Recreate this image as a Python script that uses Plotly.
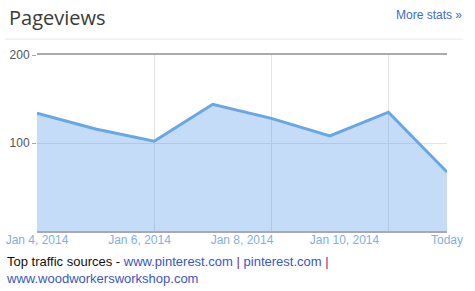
import plotly.graph_objects as go

dates = ["2014-01-04", "2014-01-05", "2014-01-06", "2014-01-07",
         "2014-01-08", "2014-01-09", "2014-01-10", "2014-01-11"]
pageviews = [134, 116, 102, 144, 128, 108, 135, 67]
grid_dates = ["2014-01-04", "2014-01-06", "2014-01-08", "2014-01-10", "2014-01-11"]
tick_labels = ["Jan 4, 2014", "Jan 6, 2014", "Jan 8, 2014", "Jan 10, 2014", "Today"]
label_slots = list(range(len(tick_labels)))
y_ticks = [100, 200]

fig = go.Figure()
fig.add_trace(go.Scatter(
    x=dates, y=pageviews, mode="lines", fill="tozeroy",
    line=dict(color="#68a6e8", width=3),
    fillcolor="rgba(60,140,230,0.3)", hoverinfo="skip", showlegend=False))
# invisible carrier so the evenly spaced label axis is rendered
fig.add_trace(go.Scatter(
    x=label_slots, y=[None] * len(label_slots), xaxis="x2", yaxis="y",
    mode="markers", marker=dict(opacity=0), hoverinfo="skip", showlegend=False))

fig.update_layout(
    width=475, height=291,
    margin=dict(l=37, r=28, t=55, b=60, autoexpand=False),
    paper_bgcolor="white", plot_bgcolor="white",
    font=dict(family="Liberation Sans, Arial, sans-serif", size=12, color="#555"),
    xaxis=dict(
        range=[dates[0], dates[-1]], tickmode="array",
        tickvals=grid_dates, showticklabels=False, automargin=False,
        showgrid=True, gridcolor="#e4e4e4", gridwidth=1,
        showline=True, linecolor="#aaaaaa", linewidth=1.5, mirror=True,
        ticks="", zeroline=False,
    ),
    xaxis2=dict(
        overlaying="x", anchor="y", side="bottom",
        range=[label_slots[0], label_slots[-1]], tickmode="array",
        tickvals=label_slots, ticktext=tick_labels, automargin=False,
        showgrid=False, showline=False, zeroline=False, ticks="",
        tickfont=dict(color="#7fb0e2", size=12),
    ),
    yaxis=dict(
        range=[0, 200], tickmode="array", tickvals=y_ticks, automargin=False,
        showgrid=True, gridcolor="#e4e4e4", zeroline=False,
        showline=False, ticks="outside", ticklen=4, tickcolor="#aaaaaa",
        tickfont=dict(color="#555", size=12),
    ),
    shapes=[dict(type="line", xref="paper", yref="paper",
                 x0=-0.078, x1=1.04, y0=1.09, y1=1.09,
                 line=dict(color="#e8e8e8", width=1))],
    annotations=[
        dict(text="Pageviews", xref="paper", yref="paper", x=-0.072, y=1.215,
             xanchor="left", yanchor="middle", showarrow=False,
             font=dict(family="Open Sans, sans-serif", size=20, color="#3a3a3a")),
        dict(text="More stats »", xref="paper", yref="paper", x=1.042, y=1.225,
             xanchor="right", yanchor="middle", showarrow=False,
             font=dict(family="Liberation Sans, Arial", size=12, color="#3b6bd6")),
        dict(text="Top traffic sources - <span style='color:#3a55c8'>www.pinterest.com</span>"
                  " <span style='color:#7a2a8a'>|</span> <span style='color:#3a55c8'>pinterest.com</span>"
                  " <span style='color:#7a2a8a'>|</span><br><span style='color:#3a55c8'>www.woodworkersworkshop.com</span>",
             xref="paper", yref="paper", x=-0.08, y=-0.118, xanchor="left", yanchor="top",
             align="left", showarrow=False,
             font=dict(family="Liberation Sans, Arial", size=13, color="#111")),
    ],
)

fig.write_html("out.html")
